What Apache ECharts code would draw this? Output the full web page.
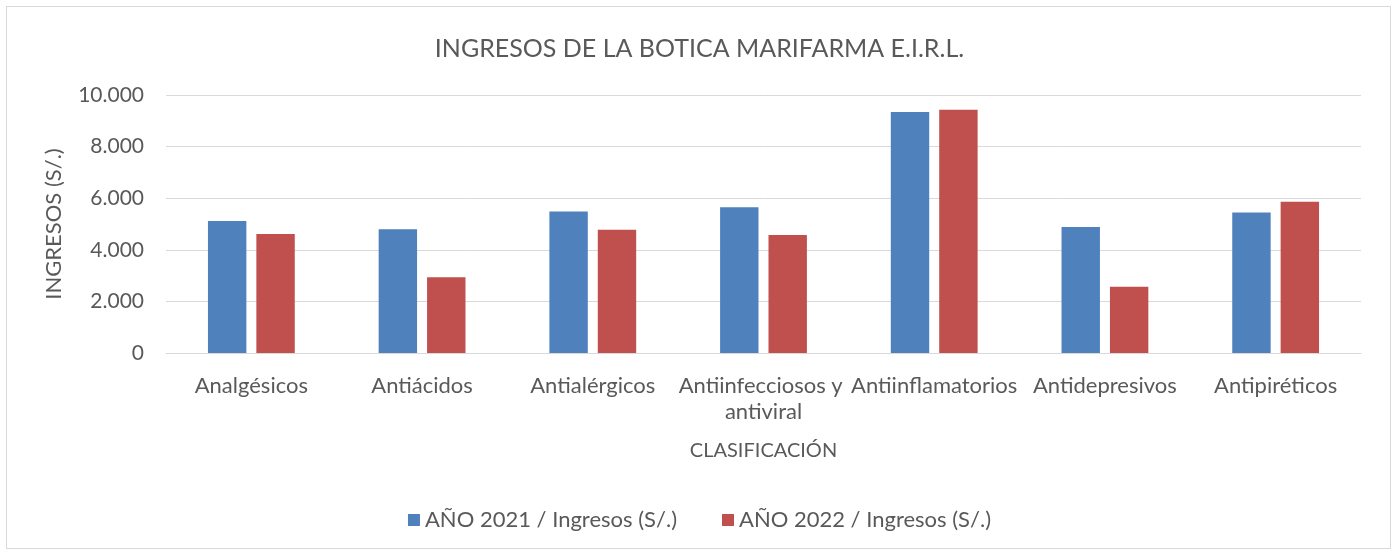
<!DOCTYPE html>
<html><head><meta charset="utf-8">
<script src="https://cdn.jsdelivr.net/npm/echarts@6/dist/echarts.min.js"></script>
<style>html,body{margin:0;padding:0;background:#fff}
#frame{position:absolute;left:6px;top:6px;width:1385px;height:543px;border:1px solid #d9d9d9;box-sizing:border-box}
#c{width:1399px;height:556px;position:absolute;left:0;top:0}</style>
</head><body><div id="frame"></div><div id="c"></div>
<script>
const categories = ['Analgésicos','Antiácidos','Antialérgicos','Antiinfecciosos y antiviral','Antiinflamatorios','Antidepresivos','Antipiréticos'];
const ingresos2021 = [5120, 4800, 5480, 5650, 9340, 4880, 5445];
const ingresos2022 = [4610, 2940, 4775, 4570, 9430, 2570, 5860];
const seriesNames = ['AÑO 2021 / Ingresos (S/.)','AÑO 2022 / Ingresos (S/.)'];
const titleText = 'INGRESOS DE LA BOTICA MARIFARMA E.I.R.L.';
const yName = 'INGRESOS (S/.)';
const xName = 'CLASIFICACIÓN';

const font = 'Lato, "Open Sans", sans-serif';
const chart = echarts.init(document.getElementById('c'), null, {renderer:'canvas'});
chart.setOption({
  animation:false,
  textStyle:{fontFamily:font},
  title:{text:titleText,left:'center',top:31,textStyle:{fontFamily:font,fontSize:25,fontWeight:'normal',color:'#595959'}},
  legend:{bottom:20,left:'center',itemWidth:12,itemHeight:12,itemGap:45,icon:'rect',
    textStyle:{fontFamily:font,fontSize:22,color:'#595959'},data:seriesNames},
  grid:{left:166,right:38,top:95,bottom:203},
  xAxis:{type:'category',data:categories,
    axisLine:{lineStyle:{color:'#d9d9d9',width:1}},axisTick:{show:false},
    axisLabel:{interval:0,fontFamily:font,fontSize:22,color:'#595959',margin:20,lineHeight:26,width:176,overflow:'break'},
    name:xName,nameLocation:'middle',nameGap:88,nameTextStyle:{fontFamily:font,fontSize:20,color:'#595959'}},
  yAxis:{type:'value',min:0,max:10000,interval:2000,
    axisLine:{show:false},axisTick:{show:false},
    splitLine:{lineStyle:{color:'#d9d9d9',width:1}},
    axisLabel:{fontFamily:font,fontSize:21,color:'#595959',margin:22,
      formatter:v=>v.toLocaleString('de-DE')},
    name:yName,nameLocation:'middle',nameGap:101,nameRotate:90,
    nameTextStyle:{fontFamily:font,fontSize:22,color:'#595959'}},
  series:[
    {name:seriesNames[0],type:'bar',data:ingresos2021,barWidth:'22.5%',barGap:'26%',itemStyle:{color:'#4f81bd'}},
    {name:seriesNames[1],type:'bar',data:ingresos2022,barWidth:'22.5%',barGap:'26%',itemStyle:{color:'#c0504d'}}
  ]
});
</script></body></html>
